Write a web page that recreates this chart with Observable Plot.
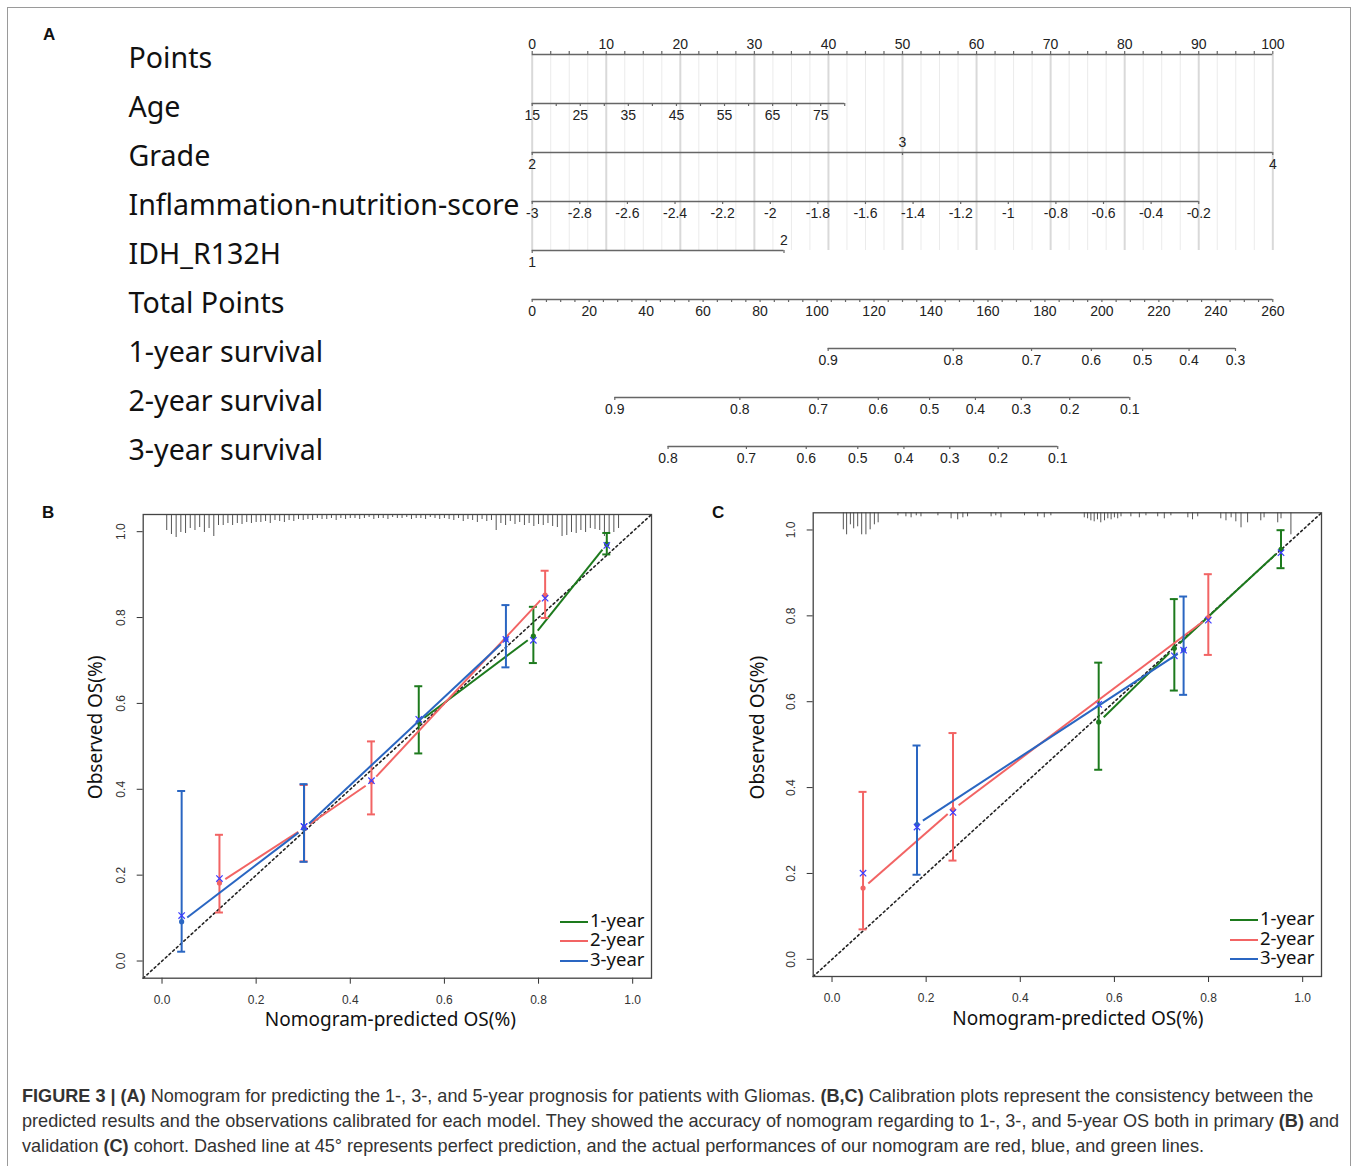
<!DOCTYPE html>
<html>
<head>
<meta charset="utf-8">
<script src="https://cdn.jsdelivr.net/npm/d3@7"></script>
<script src="https://cdn.jsdelivr.net/npm/@observablehq/plot@0.6"></script>
<style>
  body { margin: 0; background: #fff; }
  #page { position: relative; width: 1357px; height: 1166px; overflow: hidden; background: #fff; font-family: "Liberation Sans", Arial, sans-serif; }
  #border { position: absolute; left: 7px; top: 7px; width: 1342px; height: 1200px; border: 1px solid #9a9a9a; }
  .panel { position: absolute; }
  .letter { position: absolute; font: bold 17px/17px "Liberation Sans", Arial, sans-serif; color: #111; }
  .legend { position: absolute; font: 18.5px "Noto Sans", sans-serif; color: #111; }
  .legend .row { display: flex; align-items: center; height: 19.5px; line-height: 19px; }
  .legend .key { width: 28px; height: 0; border-top: 2px solid; margin-top: 5px; margin-right: 2px; }
  .legend .txt { display: inline-block; height: 19px; line-height: 19px; overflow: visible; }
  #caption { position: absolute; left: 22px; top: 1084px; font: 18.1px "Liberation Sans", Arial, sans-serif; line-height: 25px; color: #333; white-space: nowrap; }
</style>
</head>
<body>
<div id="page">
  <div id="border"></div>
  <div class="letter" style="left:43px;top:26px;">A</div>
  <div class="letter" style="left:42px;top:504px;">B</div>
  <div class="letter" style="left:712px;top:504px;">C</div>
  <div id="nomo" class="panel" style="left:0;top:0;"></div>
  <div id="panelB" class="panel" style="left:0;top:490px;width:680px;height:560px;"></div>
  <div id="panelC" class="panel" style="left:680px;top:490px;width:677px;height:560px;"></div>
  <div id="caption"><b>FIGURE 3 | (A)</b> Nomogram for predicting the 1-, 3-, and 5-year prognosis for patients with Gliomas. <b>(B,C)</b> Calibration plots represent the consistency between the<br>predicted results and the observations calibrated for each model. They showed the accuracy of nomogram regarding to 1-, 3-, and 5-year OS both in primary <b>(B)</b> and<br>validation <b>(C)</b> cohort. Dashed line at 45° represents perfect prediction, and the actual performances of our nomogram are red, blue, and green lines.</div>
</div>
<script>
// ---------------- Nomogram data (A) ----------------
const rowNames = ["Points", "Age", "Grade", "Inflammation-nutrition-score", "IDH_R132H", "Total Points", "1-year survival", "2-year survival", "3-year survival"];
const pointsLabels = [0, 10, 20, 30, 40, 50, 60, 70, 80, 90, 100];
const ageLabels = [15, 25, 35, 45, 55, 65, 75];
const ageRange = [15, 80];
const agePointsRange = [0, 42.2];
const gradeLabels = [2, 3, 4];
const gradePoints = [0, 50, 100];
const insLabels = [-3, -2.8, -2.6, -2.4, -2.2, -2, -1.8, -1.6, -1.4, -1.2, -1, -0.8, -0.6, -0.4, -0.2];
const insRange = [-3, -0.2];
const insPointsRange = [0, 90];
const idhLabels = [1, 2];
const idhPoints = [0, 34];
const totalLabels = [0, 20, 40, 60, 80, 100, 120, 140, 160, 180, 200, 220, 240, 260];
const totalRange = [0, 260];
const surv1Labels = [0.9, 0.8, 0.7, 0.6, 0.5, 0.4, 0.3];
const surv1Total = [103.9, 147.8, 175.3, 196.3, 214.3, 230.6, 246.9];
const surv2Labels = [0.9, 0.8, 0.7, 0.6, 0.5, 0.4, 0.3, 0.2, 0.1];
const surv2Total = [29.0, 72.9, 100.4, 121.5, 139.5, 155.6, 171.7, 188.7, 209.8];
const surv3Labels = [0.8, 0.7, 0.6, 0.5, 0.4, 0.3, 0.2, 0.1];
const surv3Total = [47.7, 75.2, 96.2, 114.3, 130.5, 146.6, 163.6, 184.5];

// ---------------- Calibration data (B: primary, C: validation) ----------------
// each row: [predicted, observed, lower CI, upper CI, bias-corrected]
const calB_1year = [[0.5455, 0.557, 0.4835, 0.640, 0.563], [0.789, 0.757, 0.694, 0.825, 0.747], [0.945, 0.971, 0.947, 0.997, 0.968]];
const calB_2year = [[0.122, 0.182, 0.113, 0.294, 0.192], [0.302, 0.310, 0.232, 0.410, 0.313], [0.445, 0.4175, 0.3415, 0.5115, 0.420], [0.814, 0.852, 0.799, 0.909, 0.845]];
const calB_3year = [[0.0417, 0.0916, 0.0217, 0.396, 0.106], [0.3017, 0.309, 0.231, 0.412, 0.313], [0.7307, 0.749, 0.684, 0.829, 0.749]];
const calC_1year = [[0.5666, 0.5526, 0.4415, 0.691, 0.594], [0.7273, 0.7245, 0.626, 0.839, 0.707], [0.954, 0.955, 0.911, 0.9995, 0.947]];
const calC_2year = [[0.0659, 0.166, 0.0698, 0.390, 0.2007], [0.257, 0.349, 0.230, 0.527, 0.342], [0.7995, 0.796, 0.709, 0.897, 0.790]];
const calC_3year = [[0.1806, 0.314, 0.197, 0.498, 0.308], [0.747, 0.7205, 0.616, 0.845, 0.720]];

// spike histogram of predicted risk (top of calibration plots)
const spikeB_x = d3.range(1, 98).map(i => i / 100);
const spikeB_h = [16,20,23,18,19,14,16,13,18,14,22,
  11,11,9,11,9,10,8,9,8,
  8,7,9,6,7,8,6,7,5,6,
  5,6,4,5,5,4,6,4,5,4,
  4,5,4,3,5,4,4,5,3,4,
  4,3,5,4,4,5,3,4,5,4,
  5,6,4,7,5,6,8,5,7,6,
  16,9,11,7,10,8,11,9,12,10,
  11,9,12,13,22,21,18,19,16,18,
  14,15,16,22,20,18,14];
const spikeC_x = [0.024,0.031,0.039,0.046,0.0545,0.063,0.072,0.081,0.090,0.098,
  0.140,0.157,0.168,0.179,0.189,0.225,0.253,0.267,0.278,0.288,0.338,0.348,0.359,
  0.409,0.437,0.451,0.465,0.536,0.543,0.550,0.557,0.564,0.571,0.579,0.586,0.593,0.600,0.607,0.614,
  0.635,0.653,0.667,0.692,0.706,0.720,0.756,0.766,0.777,0.826,0.837,0.848,0.858,0.869,0.883,
  0.911,0.918,0.947,0.954,0.975];
const spikeC_h = [17,22,12,16,14,22,22,17,12,10,
  3,4,5,3,4,3,6,7,5,4,4,3,5,
  3,4,5,3,5,6,8,9,7,10,8,6,7,5,6,4,
  4,5,3,4,6,3,5,7,4,6,8,5,9,15,10,
  8,5,10,6,22];

const seriesNames = ["1-year", "2-year", "3-year"];
const seriesColors = ["#1d7a1d", "#f26464", "#2a66c2"];
const axisTicks = [0, 0.2, 0.4, 0.6, 0.8, 1.0];

// ---------------- Build nomogram ----------------
const lin = (d0, d1, r0, r1) => v => r0 + (v - d0) * (r1 - r0) / (d1 - d0);
const agePts = lin(ageRange[0], ageRange[1], agePointsRange[0], agePointsRange[1]);
const insPts = lin(insRange[0], insRange[1], insPointsRange[0], insPointsRange[1]);
const totPts = lin(totalRange[0], totalRange[1], 0, 100);
const fmtNum = v => String(+v.toFixed(2));

const ticks = [];   // {row, p, dir}
const labels = [];  // {row, p, text, dir}
function addTicks(row, pts, dir) { pts.forEach(p => ticks.push({row, p, dir})); }
function addLabels(row, vals, toPts, dirFn) { vals.forEach((v, i) => labels.push({row, p: toPts(v, i), text: fmtNum(v), dir: dirFn(v, i)})); }

addTicks("Points", d3.range(0, 100.001, 2.5), "up");
addLabels("Points", pointsLabels, v => v, () => "up");
addTicks("Age", d3.range(ageRange[0], ageRange[1] + 0.001, 5).map(agePts), "down");
addLabels("Age", ageLabels, agePts, () => "down");
addTicks("Grade", gradePoints, "down");
addLabels("Grade", gradeLabels, (v, i) => gradePoints[i], (v, i) => i % 2 ? "up" : "down");
addTicks("Inflammation-nutrition-score", insLabels.map(insPts), "down");
addLabels("Inflammation-nutrition-score", insLabels, insPts, () => "down");
addTicks("IDH_R132H", idhPoints, "down");
addLabels("IDH_R132H", idhLabels, (v, i) => idhPoints[i], (v, i) => i ? "up" : "down");
addTicks("Total Points", d3.range(totalRange[0], totalRange[1] + 0.001, 5).map(totPts), "down");
addLabels("Total Points", totalLabels, totPts, () => "down");
[[surv1Labels, surv1Total, "1-year survival"], [surv2Labels, surv2Total, "2-year survival"], [surv3Labels, surv3Total, "3-year survival"]].forEach(([labs, tots, row]) => {
  addTicks(row, tots.map(totPts), "down");
  addLabels(row, labs, (v, i) => totPts(tots[i]), () => "down");
});

const rowExtents = rowNames.map(row => {
  const ps = ticks.filter(t => t.row === row).map(t => t.p);
  return {row, p0: d3.min(ps), p1: d3.max(ps)};
});
const gridMinor = d3.range(0, 100.001, 2.5).filter(v => v % 10 !== 0);
const gridMajor = pointsLabels;

const nomo = Plot.plot({
  width: 1357, height: 480,
  marginTop: 0, marginRight: 0, marginBottom: 0, marginLeft: 0,
  style: {background: "transparent", fontFamily: "Liberation Sans, Arial, sans-serif", color: "#222"},
  x: {domain: [0, 100], range: [531.7, 1272.3], axis: null},
  y: {type: "point", domain: rowNames, range: [53.3, 447.7], padding: 0, axis: null},
  marks: [
    Plot.ruleX(gridMinor, {x: d => d, y1: () => "Points", y2: () => "IDH_R132H", stroke: "#ebebeb", strokeWidth: 1}),
    Plot.ruleX(gridMajor, {x: d => d, y1: () => "Points", y2: () => "IDH_R132H", stroke: "#d9d9d9", strokeWidth: 2}),
    Plot.ruleY(rowExtents, {y: "row", x1: "p0", x2: "p1", stroke: "#666", strokeWidth: 1.6}),
    Plot.ruleX(ticks.filter(t => t.dir === "down"), {x: "p", y1: "row", y2: "row", insetBottom: -3, stroke: "#666", strokeWidth: 1.2}),
    Plot.ruleX(ticks.filter(t => t.dir === "up"), {x: "p", y1: "row", y2: "row", insetTop: -3, stroke: "#666", strokeWidth: 1.2}),
    Plot.text(labels.filter(l => l.dir === "down"), {x: "p", y: "row", text: "text", dy: 12, fontSize: 14, fill: "#222"}),
    Plot.text(labels.filter(l => l.dir === "up"), {x: "p", y: "row", text: "text", dy: -10, fontSize: 14, fill: "#222"}),
    Plot.text(rowNames, {y: d => d, text: d => d, frameAnchor: "left", dx: 128, dy: 13, textAnchor: "start", lineAnchor: "bottom", fontSize: 28.6, fontFamily: "Noto Sans", fill: "#111"})
  ]
});
document.getElementById("nomo").appendChild(nomo);

// ---------------- Calibration plots ----------------
function toPoints(rows) { return rows.map(([pred, obs, lo, hi, corr]) => ({pred, obs, lo, hi, corr})); }
function gapSegments(pts, kx, ky, gap) {
  const out = [];
  for (let i = 1; i < pts.length; i++) {
    const a = pts[i - 1], b = pts[i];
    const L = Math.hypot((b.pred - a.pred) * kx, (b.obs - a.obs) * ky);
    const t = Math.min(gap / L, 0.45);
    out.push({x1: a.pred + t * (b.pred - a.pred), y1: a.obs + t * (b.obs - a.obs),
              x2: b.pred - t * (b.pred - a.pred), y2: b.obs - t * (b.obs - a.obs)});
  }
  return out;
}

function calPlot(opts) {
  const {series, spX, spH, width, height, ml, mr, mt, mb, ylabDx, ylabDy, xlabDx, xlabDy} = opts;
  const dom = [-0.04, 1.04];
  const innerW = width - ml - mr, innerH = height - mt - mb;
  const kx = innerW / (dom[1] - dom[0]), ky = innerH / (dom[1] - dom[0]);
  const spikes = spX.map((x, i) => ({x, h: spH[i]}));
  const marks = [
    Plot.ruleX(spikes, {x: "x", y1: () => dom[1], y2: d => dom[1] - d.h / ky, stroke: "#555", strokeWidth: 1}),
    Plot.line(dom.map(v => ({v})), {x: "v", y: "v", stroke: "#222", strokeWidth: 1.6, strokeDasharray: "2,3"})
  ];
  series.forEach((rows, si) => {
    const pts = toPoints(rows);
    const color = seriesColors[si];
    marks.push(
      Plot.ruleX(pts, {x: "pred", y1: "lo", y2: "hi", stroke: color, strokeWidth: 2}),
      Plot.ruleY(pts, {y: "hi", x1: "pred", x2: "pred", insetLeft: -4, insetRight: -4, stroke: color, strokeWidth: 2}),
      Plot.ruleY(pts, {y: "lo", x1: "pred", x2: "pred", insetLeft: -4, insetRight: -4, stroke: color, strokeWidth: 2}),
      Plot.link(gapSegments(pts, kx, ky, 7), {x1: "x1", y1: "y1", x2: "x2", y2: "y2", stroke: color, strokeWidth: 2}),
      Plot.dot(pts, {x: "pred", y: "obs", fill: color, r: 2.6}),
      Plot.dot(pts, {x: "pred", y: "corr", symbol: "times", stroke: "#3d3dff", r: 3, strokeWidth: 1.2})
    );
  });
  marks.push(
    Plot.frame({stroke: "#444", strokeWidth: 1.3}),
    Plot.text(axisTicks, {y: d => d, text: d => d.toFixed(1), frameAnchor: "left", dx: -22.5, rotate: -90, textAnchor: "middle", lineAnchor: "middle", fontSize: 12, fill: "#333"}),
    Plot.text(["Nomogram-predicted OS(%)"], {frameAnchor: "bottom", dx: xlabDx, dy: xlabDy, textAnchor: "middle", lineAnchor: "middle", fontSize: 19, fontFamily: "Noto Sans", fill: "#111"}),
    Plot.text(["Observed OS(%)"], {frameAnchor: "left", dx: ylabDx, dy: ylabDy, rotate: -90, textAnchor: "middle", lineAnchor: "middle", fontSize: 19, fontFamily: "Noto Sans", fill: "#111"})
  );
  return Plot.plot({
    width, height, marginLeft: ml, marginRight: mr, marginTop: mt, marginBottom: mb,
    style: {background: "transparent", fontFamily: "Liberation Sans, Arial, sans-serif", fontSize: "12px", color: "#333"},
    x: {domain: dom, ticks: axisTicks, tickFormat: d => d.toFixed(1), tickSize: 6, tickPadding: 11, label: null},
    y: {domain: dom, ticks: axisTicks, tickFormat: () => "", tickSize: 6, label: null},
    marks
  });
}

function legend(frameRight, frameBottom) {
  const div = document.createElement("div");
  div.className = "legend";
  div.style.left = (frameRight - 91) + "px";
  div.style.top = (frameBottom - 68) + "px";
  seriesNames.forEach((name, i) => {
    const row = document.createElement("div");
    row.className = "row";
    const key = document.createElement("span");
    key.className = "key";
    key.style.borderTopColor = seriesColors[i];
    const txt = document.createElement("span");
    txt.className = "txt";
    txt.textContent = name;
    row.appendChild(key); row.appendChild(txt);
    div.appendChild(row);
  });
  return div;
}

const pB = calPlot({series: [calB_1year, calB_2year, calB_3year], spX: spikeB_x, spH: spikeB_h,
  width: 680, height: 560, ml: 142.7, mr: 29, mt: 24, mb: 72.3,
  ylabDx: -47.7, ylabDy: -19, xlabDx: -7, xlabDy: 42});
document.getElementById("panelB").appendChild(pB);
document.getElementById("panelB").appendChild(legend(651, 487.7));

const pC = calPlot({series: [calC_1year, calC_2year, calC_3year], spX: spikeC_x, spH: spikeC_h,
  width: 677, height: 560, ml: 132.7, mr: 36, mt: 22.3, mb: 74,
  ylabDx: -55.7, ylabDy: -17, xlabDx: 10.5, xlabDy: 42});
document.getElementById("panelC").appendChild(pC);
document.getElementById("panelC").appendChild(legend(641, 486));
</script>
</body>
</html>
